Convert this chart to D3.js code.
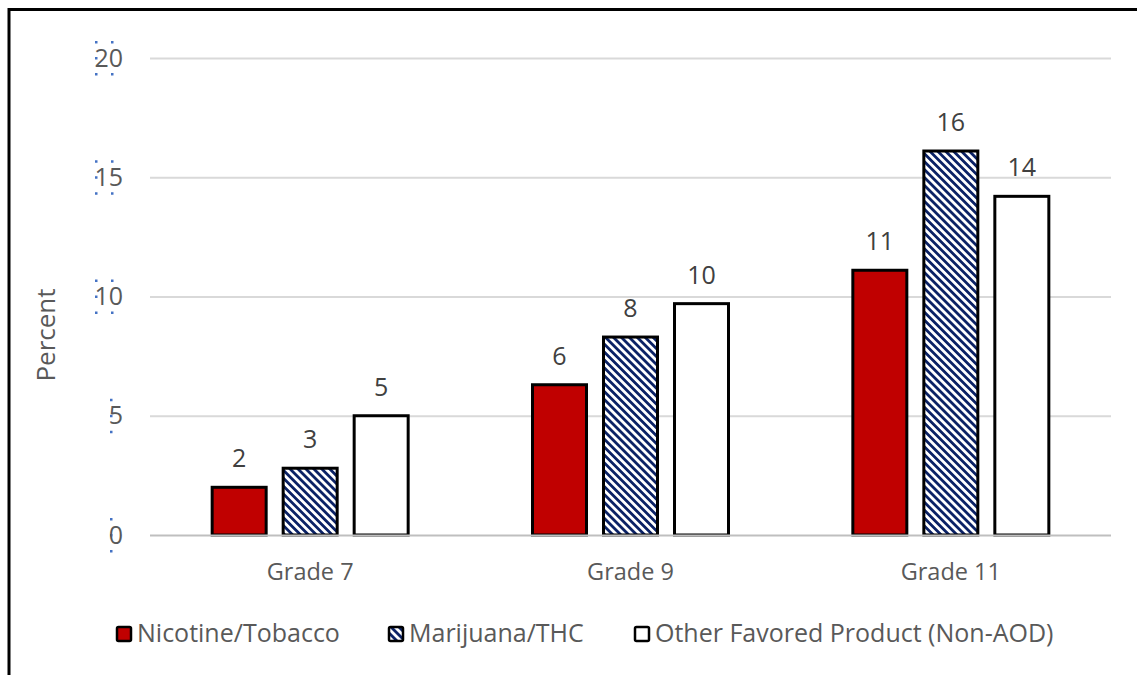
<!DOCTYPE html>
<html>
<head>
<meta charset="utf-8">
<script src="https://cdn.jsdelivr.net/npm/d3@7"></script>
<style>
  html, body { margin: 0; padding: 0; background: #fff; }
  svg { display: block; }
  text { font-family: "Open Sans", "Noto Sans", sans-serif; }
</style>
</head>
<body>
<svg id="chart" width="1137" height="675"></svg>
<script>
// Grades surveyed
const grades = ["Grade 7", "Grade 9", "Grade 11"];
// Product categories
const products = ["Nicotine/Tobacco", "Marijuana/THC", "Other Favored Product (Non-AOD)"];
// Percent of students, per product, by grade
const nicotine = [2.0, 6.3, 11.1];
const marijuana = [2.8, 8.3, 16.1];
const otherProduct = [5.0, 9.7, 14.2];
// Y-axis ticks
const yTicks = [0, 5, 10, 15, 20];

const seriesValues = [nicotine, marijuana, otherProduct];

const W = 1137, H = 675;
const margin = { left: 150, right: 26, top: 58, bottom: 140 };

const svg = d3.select("#chart");

// Striped fill for the marijuana series
const defs = svg.append("defs");
const pat = defs.append("pattern")
  .attr("id", "stripes")
  .attr("patternUnits", "userSpaceOnUse")
  .attr("width", 5.6).attr("height", 5.6)
  .attr("patternTransform", "rotate(-45)");
pat.append("rect").attr("width", 5.6).attr("height", 5.6).attr("fill", "#ffffff");
pat.append("rect").attr("width", 2.8).attr("height", 5.6).attr("fill", "#0b2266");

const fills = ["#C00000", "url(#stripes)", "#ffffff"];

// Outer frame (top and left edges)
svg.append("path")
  .attr("d", `M9,${H} L9,9.5 L${W},9.5`)
  .attr("fill", "none").attr("stroke", "#000").attr("stroke-width", 3);

const x0 = d3.scaleBand().domain(grades).range([margin.left, W - margin.right]);
const x1 = d3.scaleBand().domain(products).range([-99.5, 99.5]).paddingInner(14 / 71).paddingOuter(0);
const y = d3.scaleLinear().domain([0, 20]).range([535, 58]);

// Gridlines
svg.append("g").selectAll("line").data(yTicks.filter(d => d > 0)).join("line")
  .attr("x1", margin.left).attr("x2", W - margin.right)
  .attr("y1", d => y(d) + 0.5).attr("y2", d => y(d) + 0.5)
  .attr("stroke", "#D9D9D9").attr("stroke-width", 2);

// Small selection handles around the tick labels
const handleColor = "#4472C4";
const handles = svg.append("g");
yTicks.forEach(t => {
  const cy = y(t);
  const twoDigit = t >= 10;
  const lx = twoDigit ? 96 : 111;
  const pts = [[lx, cy - 16], [lx, cy], [lx, cy + 16]];
  if (twoDigit) pts.push([lx + 16, cy - 16], [lx + 16, cy + 16]);
  pts.forEach(p => handles.append("rect")
    .attr("x", p[0] - 1).attr("y", p[1] - 1).attr("width", 2.5).attr("height", 2.5)
    .attr("fill", handleColor));
});

// Y tick labels
const yAxis = d3.axisLeft(y).tickValues(yTicks).tickSize(0).tickPadding(0);
const gy = svg.append("g").attr("transform", "translate(123,0)").call(yAxis);
gy.select(".domain").remove();
gy.selectAll("text")
  .attr("fill", "#595959").style("font-size", "25px")
  .style("font-family", "'Open Sans', sans-serif");

// Y-axis title
svg.append("text")
  .attr("transform", "translate(55,335) rotate(-90)")
  .attr("text-anchor", "middle")
  .attr("fill", "#595959").style("font-size", "26px")
  .text("Percent");

// Bars
const groups = svg.append("g").selectAll("g").data(grades).join("g")
  .attr("transform", d => `translate(${x0(d) + x0.bandwidth() / 2},0)`);

groups.each(function (g, gi) {
  const sel = d3.select(this);
  const rows = products.map((p, pi) => ({ p, pi, v: seriesValues[pi][gi] }));
  sel.selectAll("rect").data(rows).join("rect")
    .attr("x", d => x1(d.p) + 1.5)
    .attr("y", d => y(d.v))
    .attr("width", x1.bandwidth() - 3)
    .attr("height", d => y(0) - y(d.v))
    .attr("fill", d => fills[d.pi])
    .attr("stroke", "#000").attr("stroke-width", 3);
  sel.selectAll("text").data(rows).join("text")
    .attr("x", d => x1(d.p) + x1.bandwidth() / 2)
    .attr("y", d => y(d.v) - 20)
    .attr("text-anchor", "middle")
    .attr("fill", "#404040").style("font-size", "25px")
    .text(d => d3.format(".0f")(d.v));
});

// Baseline
svg.append("line")
  .attr("x1", margin.left).attr("x2", W - margin.right)
  .attr("y1", 535.5).attr("y2", 535.5)
  .attr("stroke", "#BFBFBF").attr("stroke-width", 2);

// Category labels
svg.append("g").selectAll("text").data(grades).join("text")
  .attr("x", d => x0(d) + x0.bandwidth() / 2)
  .attr("y", 580)
  .attr("text-anchor", "middle")
  .attr("fill", "#595959").style("font-size", "23.5px")
  .text(d => d);

// Legend
const legendX = [116, 388, 634];
const legend = svg.append("g").selectAll("g").data(products).join("g")
  .attr("transform", (d, i) => `translate(${legendX[i]},626)`);
legend.append("rect")
  .attr("x", 1).attr("y", 1).attr("width", 14).attr("height", 14)
  .attr("fill", (d, i) => fills[i]).attr("stroke", "#000").attr("stroke-width", 2.5)
  .attr("rx", 1.5);
legend.append("text")
  .attr("x", 21).attr("y", 16)
  .attr("fill", "#595959").style("font-size", "25px")
  .text(d => d);
</script>
</body>
</html>
